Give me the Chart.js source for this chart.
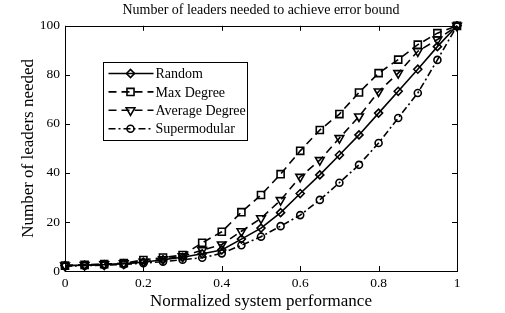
<!DOCTYPE html>
<html>
<head>
<meta charset="utf-8">
<script src="https://cdn.jsdelivr.net/npm/chart.js@4/dist/chart.umd.min.js"></script>
<style>
  html, body { margin: 0; padding: 0; background: #fff; }
  #wrap { width: 505px; height: 313px; }
</style>
</head>
<body>
<div id="wrap"><canvas id="c" width="505" height="313"></canvas></div>
<script>
const performance = [0, 0.05, 0.1, 0.15, 0.2, 0.25, 0.3, 0.35, 0.4, 0.45, 0.5, 0.55, 0.6, 0.65, 0.7, 0.75, 0.8, 0.85, 0.9, 0.95, 1];
const randomLeaders = [2.2, 2.4, 2.6, 3.0, 3.6, 4.6, 5.6, 7.0, 8.6, 13.0, 17.5, 23.8, 31.6, 39.2, 47.3, 55.5, 64.4, 73.3, 82.3, 91.5, 100];
const maxDegreeLeaders = [2.2, 2.5, 2.8, 3.2, 4.5, 5.5, 6.5, 11.5, 16.0, 24.0, 31.0, 39.5, 49.0, 57.5, 64.0, 72.8, 80.7, 86.2, 92.3, 97.0, 100];
const avgDegreeLeaders = [2.2, 2.4, 2.7, 3.1, 3.8, 4.8, 6.0, 8.5, 10.8, 16.2, 21.5, 28.9, 38.4, 45.2, 54.2, 63.0, 73.2, 80.7, 89.6, 94.4, 100];
const supermodularLeaders = [2.0, 2.2, 2.4, 2.7, 3.2, 3.8, 4.6, 5.4, 7.2, 10.5, 14.0, 18.3, 22.8, 29.0, 36.0, 43.3, 52.2, 62.4, 72.6, 86.1, 100];
const seriesNames = ['Random', 'Max Degree', 'Average Degree', 'Supermodular'];
const xTickStep = 0.2;
const yTickStep = 20;

const FONT = "'Liberation Serif', 'Times New Roman', serif";
const toPts = arr => arr.map((v, i) => ({ x: performance[i], y: v }));

function ds(label, data, style, radius, dash, rotation) {
  return {
    label, data: toPts(data),
    borderColor: '#000', backgroundColor: 'rgba(0,0,0,0)',
    borderWidth: 1.6, borderDash: dash,
    pointStyle: style, pointRadius: radius, pointRotation: rotation || 0,
    pointBorderColor: '#000', pointBackgroundColor: 'rgba(0,0,0,0)', pointBorderWidth: 1.6,
    tension: 0, clip: false
  };
}

const boxPlugin = {
  id: 'boxTicks',
  afterDatasetsDraw(chart) {
    const { ctx, chartArea: { left, right, top, bottom }, scales: { x, y } } = chart;
    ctx.save();
    ctx.strokeStyle = '#000';
    ctx.lineWidth = 1;
    ctx.setLineDash([]);
    ctx.strokeRect(Math.round(left) + 0.5, Math.round(top) + 0.5, Math.round(right - left), Math.round(bottom - top));
    const L = 5;
    ctx.beginPath();
    x.ticks.forEach(t => {
      const p = Math.round(x.getPixelForValue(t.value)) + 0.5;
      ctx.moveTo(p, bottom); ctx.lineTo(p, bottom - L);
      ctx.moveTo(p, top); ctx.lineTo(p, top + L);
    });
    y.ticks.forEach(t => {
      const p = Math.round(y.getPixelForValue(t.value)) + 0.5;
      ctx.moveTo(left, p); ctx.lineTo(left + L, p);
      ctx.moveTo(right, p); ctx.lineTo(right - L, p);
    });
    ctx.stroke();

    // legend box
    const bx = Math.round(left) + 38.5, by = Math.round(top) + 36.5, bw = 144, bh = 78;
    ctx.fillStyle = '#fff';
    ctx.fillRect(bx, by, bw, bh);
    ctx.strokeRect(bx, by, bw, bh);
    ctx.font = '14px ' + FONT;
    ctx.textBaseline = 'middle';
    chart.data.datasets.forEach((d, i) => {
      const ry = by + 11 + i * 18.4;
      ctx.save();
      ctx.lineWidth = 1.6;
      ctx.setLineDash(d.borderDash || []);
      ctx.beginPath();
      ctx.moveTo(bx + 5, ry); ctx.lineTo(bx + 50, ry);
      ctx.stroke();
      ctx.setLineDash([]);
      ctx.fillStyle = 'rgba(0,0,0,0)';
      Chart.helpers.drawPoint(ctx, { pointStyle: d.pointStyle, rotation: d.pointRotation, radius: d.pointRadius, borderWidth: 1.6 }, bx + 27, ry);
      ctx.restore();
      ctx.fillStyle = '#000';
      ctx.fillText(d.label, bx + 52, ry + 1);
    });
    ctx.restore();
  }
};

new Chart(document.getElementById('c'), {
  type: 'line',
  data: {
    datasets: [
      ds(seriesNames[0], randomLeaders, 'rectRot', 4, []),
      ds(seriesNames[1], maxDegreeLeaders, 'rect', 5, [8, 5]),
      ds(seriesNames[2], avgDegreeLeaders, 'triangle', 5, [8, 5], 180),
      ds(seriesNames[3], supermodularLeaders, 'circle', 3.5, [7, 3, 2, 3])
    ]
  },
  plugins: [boxPlugin],
  options: {
    responsive: false,
    animation: false,
    devicePixelRatio: 1,
    layout: { padding: { left: 0, right: 48, top: 0, bottom: 1 } },
    plugins: {
      legend: { display: false },
      tooltip: { enabled: false },
      title: {
        display: true,
        fullSize: false,
        text: 'Number of leaders needed to achieve error bound',
        color: '#000',
        font: { family: FONT, size: 14, weight: 'normal' },
        padding: { top: 2, bottom: 7 }
      }
    },
    scales: {
      x: {
        type: 'linear', min: 0, max: 1,
        grid: { display: false, drawTicks: false },
        border: { display: false },
        ticks: {
          stepSize: xTickStep, color: '#000', font: { family: FONT, size: 13.5 }, padding: 4, maxRotation: 0,
          callback: v => String(Number(v.toFixed(1)))
        },
        title: { display: true, text: 'Normalized system performance', color: '#000', font: { family: FONT, size: 17 }, padding: { top: 0, bottom: 0 } },
        afterFit(s) { s.height = 41; }
      },
      y: {
        min: 0, max: 100,
        grid: { display: false, drawTicks: false },
        border: { display: false },
        ticks: { stepSize: yTickStep, color: '#000', font: { family: FONT, size: 13.5 }, padding: 5 },
        title: { display: true, text: 'Number of leaders needed', color: '#000', font: { family: FONT, size: 17 }, padding: { top: 18, bottom: 0 } },
        afterFit(s) { s.width = 65; }
      }
    }
  }
});
</script>
</body>
</html>
